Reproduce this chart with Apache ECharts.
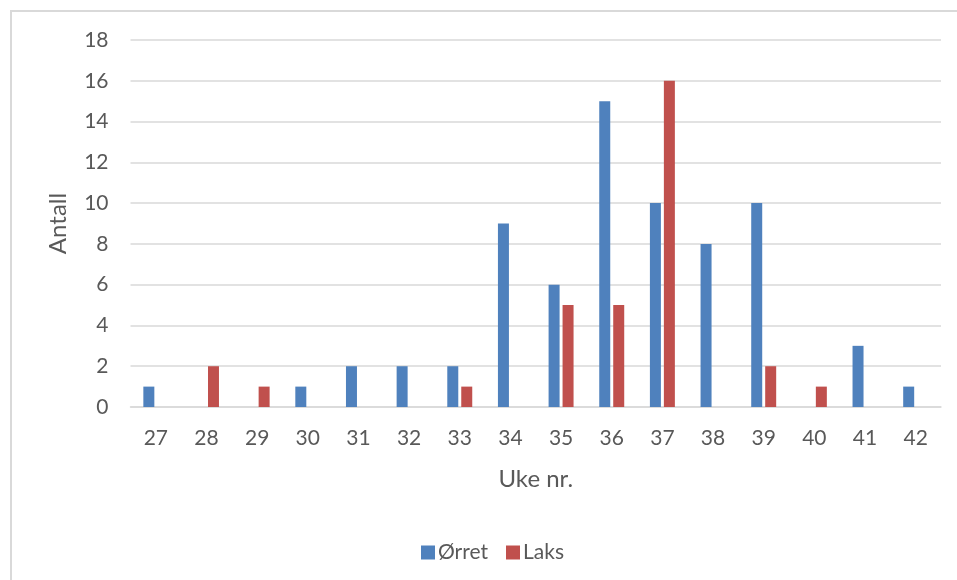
<!DOCTYPE html>
<html>
<head>
<meta charset="utf-8">
<script src="https://cdn.jsdelivr.net/npm/echarts@6/dist/echarts.min.js"></script>
<style>
  html, body { margin: 0; padding: 0; background: #fff; }
  #frame { position: absolute; left: 10px; top: 10px; width: 1000px; height: 600px; border: 2px solid #d9d9d9; box-sizing: border-box; }
  #chart { position: absolute; left: 0; top: 0; width: 957px; height: 580px; }
</style>
</head>
<body>
<div id="frame"></div>
<div id="chart"></div>
<script>
// Week numbers and catch counts per species
const weeks = ['27','28','29','30','31','32','33','34','35','36','37','38','39','40','41','42'];
const orret = [1, 0, 0, 1, 2, 2, 2, 9, 6, 15, 10, 8, 10, 0, 3, 1];
const laks  = [0, 2, 1, 0, 0, 0, 1, 0, 5, 5, 16, 0, 2, 1, 0, 0];
const yTicks = [0, 2, 4, 6, 8, 10, 12, 14, 16, 18];

const textColor = '#595959';
const font = 'Lato, "Open Sans", sans-serif';

const chart = echarts.init(document.getElementById('chart'), null, { renderer: 'canvas' });
chart.setOption({
  animation: false,
  textStyle: { fontFamily: font },
  grid: { left: 130.5, right: 16, top: 40, bottom: 173 },
  legend: {
    data: ['Ørret', 'Laks'],
    left: 416,
    top: 537,
    itemWidth: 14,
    itemHeight: 14,
    itemGap: 18,
    icon: 'rect',
    textStyle: { color: textColor, fontSize: 21, fontFamily: font, padding: [0, 0, 0, -2] }
  },
  xAxis: {
    type: 'category',
    data: weeks,
    name: 'Uke nr.',
    nameLocation: 'middle',
    nameGap: 60,
    nameTextStyle: { color: textColor, fontSize: 24, fontFamily: font },
    axisLine: { show: true, lineStyle: { color: '#d9d9d9', width: 1.5 } },
    axisTick: { show: false },
    axisLabel: { color: textColor, fontSize: 21, fontFamily: font, margin: 21 }
  },
  yAxis: {
    type: 'value',
    min: yTicks[0],
    max: yTicks[yTicks.length - 1],
    interval: 2,
    name: 'Antall',
    nameLocation: 'middle',
    nameGap: 60,
    nameRotate: 90,
    nameTextStyle: { color: textColor, fontSize: 24, fontFamily: font },
    axisLine: { show: false },
    axisTick: { show: false },
    axisLabel: { color: textColor, fontSize: 21, fontFamily: font, margin: 22 },
    splitLine: { lineStyle: { color: '#d9d9d9', width: 1.5 } }
  },
  series: [
    {
      name: 'Ørret',
      type: 'bar',
      data: orret,
      barWidth: 11,
      barGap: '27%',
      itemStyle: { color: '#4f81bd' }
    },
    {
      name: 'Laks',
      type: 'bar',
      data: laks,
      barWidth: 11,
      barGap: '27%',
      itemStyle: { color: '#c0504d' }
    }
  ]
});
</script>
</body>
</html>
